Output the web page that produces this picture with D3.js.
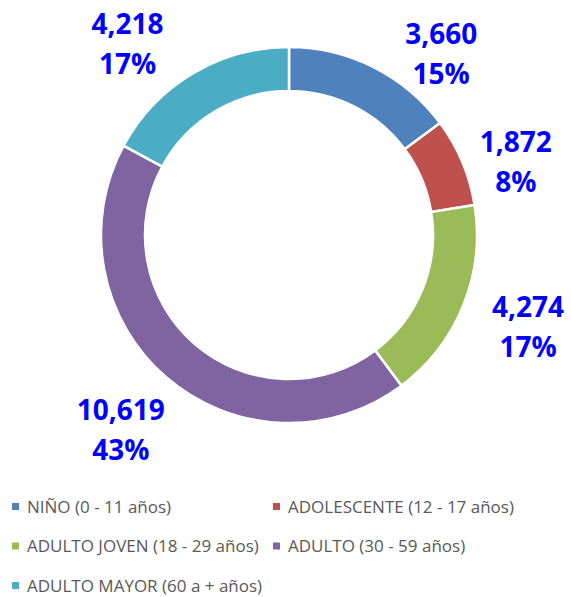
<!DOCTYPE html>
<html>
<head>
<meta charset="utf-8">
<script src="https://cdn.jsdelivr.net/npm/d3@7"></script>
<style>
  body { margin: 0; background: #fff; }
  svg { display: block; font-family: "Open Sans", sans-serif; }
</style>
</head>
<body>
<div id="chart"></div>
<script>
const categories = ["NIÑO (0 - 11 años)", "ADOLESCENTE (12 - 17 años)", "ADULTO JOVEN (18 - 29 años)", "ADULTO (30 - 59 años)", "ADULTO MAYOR (60 a + años)"];
const values = [3660, 1872, 4274, 10619, 4218];
const colors = ["#4F81BD", "#C0504D", "#9BBB59", "#8064A2", "#4BACC6"];

const width = 571, height = 597;
const cx = 289, cy = 235;
const outerR = 188, innerR = 144;
// hand nudges so labels sit where the original chart put them
const labelNudge = [[42, 28], [1, 12], [12, -10], [-8, 0], [-36, 9]];

const svg = d3.select("#chart").append("svg")
  .attr("width", width)
  .attr("height", height);

const data = categories.map((c, i) => ({cat: c, value: values[i], color: colors[i], i}));
const total = d3.sum(values);

const pie = d3.pie().value(d => d.value).sort(null);
const arc = d3.arc().innerRadius(innerR).outerRadius(outerR);
const labelArc = d3.arc().innerRadius(245).outerRadius(245);

const g = svg.append("g").attr("transform", `translate(${cx},${cy})`);
const arcs = pie(data);

g.selectAll("path")
  .data(arcs)
  .join("path")
  .attr("d", arc)
  .attr("fill", d => d.data.color)
  .attr("stroke", "#fff")
  .attr("stroke-width", 2.5);

const fmt = d3.format(",");
const labels = g.selectAll("g.lbl")
  .data(arcs)
  .join("g")
  .attr("class", "lbl")
  .attr("transform", d => {
    const [x, y] = labelArc.centroid(d);
    const n = labelNudge[d.data.i];
    return `translate(${x + n[0]},${y + n[1]})`;
  });

labels.append("text")
  .attr("text-anchor", "middle")
  .attr("fill", "#0000FF")
  .attr("font-weight", "bold")
  .attr("font-size", 28)
  .text(d => fmt(d.data.value));

labels.append("text")
  .attr("text-anchor", "middle")
  .attr("y", 40)
  .attr("fill", "#0000FF")
  .attr("font-weight", "bold")
  .attr("font-size", 28)
  .text(d => Math.round(d.data.value / total * 100) + "%");

// Legend, two columns
const legend = svg.append("g");
const item = legend.selectAll("g")
  .data(data)
  .join("g")
  .attr("transform", d => `translate(${d.i % 2 ? 273 : 12},${506.5 + Math.floor(d.i / 2) * 39.5})`);

item.append("rect")
  .attr("x", 0).attr("y", -3.5)
  .attr("width", 7).attr("height", 7)
  .attr("fill", d => d.color);

item.append("text")
  .attr("x", 15)
  .attr("y", 6)
  .attr("font-size", 17)
  .attr("fill", "#595959")
  .text(d => d.cat);
</script>
</body>
</html>
